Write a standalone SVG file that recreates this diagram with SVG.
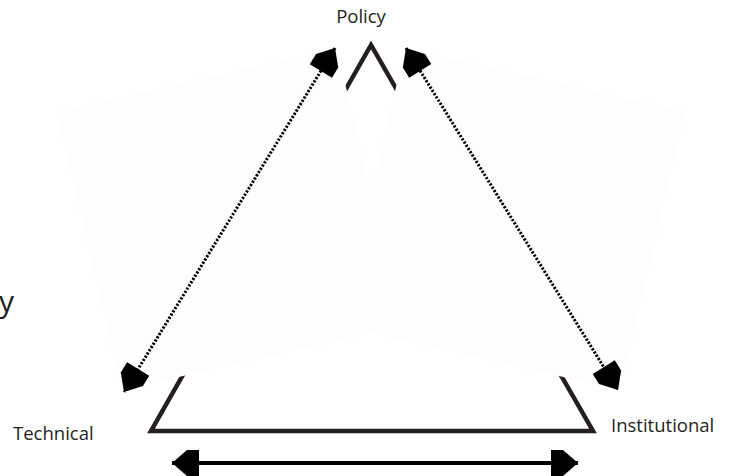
<svg xmlns="http://www.w3.org/2000/svg" width="732" height="476" viewBox="0 0 732 476">
<style>
.lbl{font-family:"Open Sans","Liberation Sans",sans-serif;font-size:18.5px;fill:#231f20}
.pane{fill:#fdfdfd}
.dot{fill:none;stroke:#000;stroke-width:3;stroke-dasharray:2.2 1.6}
.solid{fill:none;stroke:#000;stroke-width:4}
</style>
<defs>
<marker id="ah" markerUnits="userSpaceOnUse" orient="auto-start-reverse" viewBox="-30 -15 32 30" refX="0" refY="0" markerWidth="32" markerHeight="30">
<path d="M0,0 L-15,-13 L-27,-13 L-27,13 L-15,13 Z" fill="#000"/>
</marker>
</defs>
<rect width="732" height="476" fill="#fff"/>
<g id="triangle">
<polygon points="371,45 151,431 593,431" fill="#fff" stroke="#231f20" stroke-width="4.5" stroke-linejoin="miter"/>
</g>
<g id="panes">
<polygon class="pane" points="57,112 337,48 401,326 122,390"/>
<polygon class="pane" points="685,112 405,48 341,326 620,390"/>
</g>
<g id="connectors">
<line class="dot" x1="335" y1="48" x2="124" y2="392" marker-start="url(#ah)" marker-end="url(#ah)"/>
<line class="dot" x1="406" y1="48" x2="618" y2="390" marker-start="url(#ah)" marker-end="url(#ah)"/>
<line class="solid" x1="172" y1="463" x2="578" y2="463" marker-start="url(#ah)" marker-end="url(#ah)"/>
</g>
<g id="policy"><text class="lbl" x="361" y="23" text-anchor="middle">Policy</text></g>
<g id="technical"><text class="lbl" x="13" y="440">Technical</text></g>
<g id="institutional"><text class="lbl" x="611" y="432">Institutional</text></g>
<g id="fragment"><text class="lbl" x="14" y="312" text-anchor="end" style="font-size:30px">y</text></g>
</svg>
